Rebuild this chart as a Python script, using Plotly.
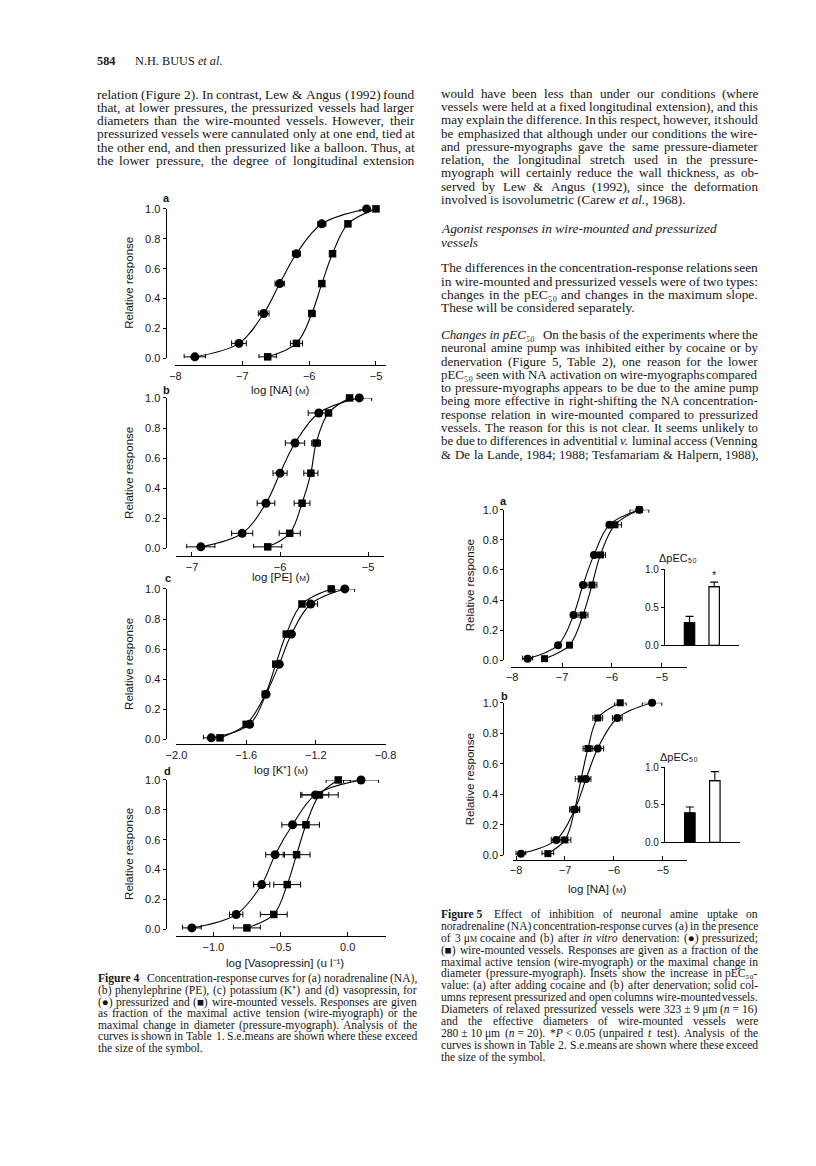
import re
import plotly.graph_objects as go

# ---------------- data ----------------
resp_levels = [0.01, 0.1, 0.3, 0.5, 0.7, 0.9, 1.0]

# Figure 4a  noradrenaline
na_press_x = [-7.71, -7.05, -6.68, -6.44, -6.19, -5.81, -5.14]
na_press_err = [0.16, 0.11, 0.08, 0.07, 0.06, 0.06, 0.10]
na_wire_x = [-6.62, -6.19, -5.96, -5.81, -5.65, -5.42, -5.00]
na_wire_err = [0.13, 0.09, 0.05, 0.0, 0.0, 0.0, 0.0]

# Figure 4b  phenylephrine
pe_press_x = [-6.90, -6.43, -6.16, -6.00, -5.83, -5.56, -5.10]
pe_press_err = [0.16, 0.12, 0.10, 0.08, 0.11, 0.12, 0.14]
pe_wire_x = [-6.14, -5.89, -5.75, -5.65, -5.59, -5.45, -5.21]
pe_wire_err = [0.16, 0.12, 0.09, 0.08, 0.05, 0.0, 0.0]

# Figure 4c  potassium
k_press_x = [-1.80, -1.58, -1.486, -1.41, -1.34, -1.23, -1.034]
k_press_err = [0.045, 0.0, 0.0, 0.0, 0.0, 0.04, 0.056]
k_wire_x = [-1.75, -1.60, -1.49, -1.43, -1.37, -1.28, -1.112]
k_wire_err = [0.0, 0.0, 0.0, 0.0, 0.0, 0.0, 0.0]

# Figure 4d  vasopressin
vp_press_x = [-1.16, -0.83, -0.64, -0.54, -0.41, -0.24, 0.10]
vp_press_err = [0.07, 0.05, 0.06, 0.07, 0.08, 0.10, 0.13]
vp_wire_x = [-0.75, -0.55, -0.45, -0.38, -0.31, -0.21, -0.07]
vp_wire_err = [0.10, 0.10, 0.10, 0.10, 0.10, 0.14, 0.09]

# Figure 5a  NA with cocaine
coc_press_x = [-7.69, -7.08, -6.77, -6.58, -6.36, -6.05, -5.45]
coc_press_err = [0.10, 0.0, 0.0, 0.0, 0.0, 0.0, 0.19]
coc_wire_x = [-7.35, -6.85, -6.58, -6.40, -6.23, -5.94, -5.45]
coc_wire_err = [0.0, 0.0, 0.1, 0.1, 0.1, 0.13, 0.0]

# Figure 5b  NA after denervation
den_press_x = [-7.90, -7.18, -6.80, -6.57, -6.33, -5.93, -5.22]
den_press_err = [0.1, 0.1, 0.1, 0.1, 0.12, 0.1, 0.2]
den_wire_x = [-7.35, -7.00, -6.80, -6.67, -6.53, -6.33, -5.87]
den_wire_err = [0.12, 0.12, 0.1, 0.12, 0.1, 0.1, 0.12]

# Insets: delta pEC50 (pressurized, wire-mounted)
inset_groups = [0, 1]
inset_a_vals = [0.30, 0.77]
inset_a_err = [0.08, 0.06]
inset_b_vals = [0.39, 0.82]
inset_b_err = [0.08, 0.12]

# ---------------- page geometry helpers ----------------
W, H = 816, 1166
SERIF = "Liberation Serif"
SANS = "Liberation Sans"
TXT = "#161616"


def fx(px):
    return px / W


def fy(py):
    return 1 - py / H


annotations = []


def add_text(x, y, text, size, family=SERIF, xanchor="left", yanchor="middle",
             angle=0, color=TXT, xref="paper", yref="paper", raw=False):
    annotations.append(dict(
        x=x if raw else fx(x), y=y if raw else fy(y), xref=xref, yref=yref,
        text=text, showarrow=False, xanchor=xanchor, yanchor=yanchor,
        textangle=angle, borderpad=0, borderwidth=0,
        font=dict(family=family, size=size, color=color)))


# Times / Liberation Serif advance widths (per 1000 em)
TW = {' ': 250, '\u00a0': 250, '!': 333, '"': 408, '%': 833, '&': 778, "'": 180,
      '(': 333, ')': 333, '*': 500, '+': 564, ',': 250, '-': 333, '.': 250,
      '/': 278, ':': 278, ';': 278, '<': 564, '=': 564, '>': 564, '?': 444,
      '[': 333, ']': 333, '\u00b1': 564, '\u03bc': 500, '\u25cf': 600, '\u25a0': 600,
      '\u2080': 330, '\u2085': 330, '\u207a': 380, '\u207b': 380, '\u00b9': 300,
      'A': 722, 'B': 667, 'C': 667, 'D': 722, 'E': 611, 'F': 556, 'G': 722,
      'H': 722, 'I': 333, 'J': 389, 'K': 722, 'L': 611, 'M': 889, 'N': 722,
      'O': 722, 'P': 556, 'Q': 722, 'R': 667, 'S': 556, 'T': 611, 'U': 722,
      'V': 722, 'W': 944, 'X': 722, 'Y': 722, 'Z': 611,
      'a': 444, 'b': 500, 'c': 444, 'd': 500, 'e': 444, 'f': 333, 'g': 500,
      'h': 500, 'i': 278, 'j': 278, 'k': 500, 'l': 278, 'm': 778, 'n': 500,
      'o': 500, 'p': 500, 'q': 500, 'r': 333, 's': 389, 't': 278, 'u': 500,
      'v': 500, 'w': 722, 'x': 500, 'y': 500, 'z': 444}
WFACT = 1.02  # small safety margin for on-screen glyph rounding


def word_w(word, size):
    word = word.replace("&lt;", "<")
    total, scale = 0.0, 1.0
    for part in re.split(r"(<[^<>]+>)", word):
        if part.startswith("<") and part.endswith(">") and len(part) > 2:
            if part.startswith("<span"):
                scale = 0.65
            elif part == "</span>":
                scale = 1.0
            continue
        for ch in part:
            total += TW.get(ch, 500) * scale
    if "<b>" in word:
        total *= 1.06
    return total * size / 1000.0 * WFACT


def split_words(line):
    # split on spaces that are not inside an html tag
    return re.split(r" (?![^<>]*>)", line)


def fit_size(lines, width, target, min_gap_em=0.22, justify_last=False):
    best = target
    for i, line in enumerate(lines):
        if i == len(lines) - 1 and not justify_last:
            continue
        words = split_words(line)
        units = sum(word_w(w, 1000) for w in words) / 1000.0
        best = min(best, width / (units + (len(words) - 1) * min_gap_em))
    return best


def paragraph(lines, x0, x1, y0, dy, target, justify_last=False):
    size = fit_size(lines, x1 - x0, target, justify_last=justify_last)
    for i, line in enumerate(lines):
        y = y0 + i * dy
        words = split_words(line)
        last = (i == len(lines) - 1) and not justify_last
        if last or len(words) == 1:
            add_text(x0, y, line, size)
            continue
        widths = [word_w(w, size) for w in words]
        gap = (x1 - x0 - sum(widths)) / (len(words) - 1)
        x = x0
        for j, (w, wd) in enumerate(zip(words, widths)):
            if j == len(words) - 1:
                add_text(x1, y, w, size, xanchor="right")
            else:
                add_text(x, y, w, size)
            x += wd + gap
    return size


NB = "\u00a0"
SMALLM = '<span style="font-size:8px">M</span>'
SUB50 = "\u2085\u2080"

# ---------------- running text ----------------
add_text(88, 56, "<b>584</b>", 12.3)
add_text(127, 56, "N.H. BUUS <i>et al.</i>", 12.3)

BODY = 13.4
left_par = [
    "relation (Figure 2). In contrast, Lew & Angus (1992) found",
    "that, at lower pressures, the pressurized vessels had larger",
    "diameters than the wire-mounted vessels. However, their",
    "pressurized vessels were cannulated only at one end, tied at",
    "the other end, and then pressurized like a balloon. Thus, at",
    "the lower pressure, the degree of longitudinal extension",
]
paragraph(left_par, 88, 415, 89, 13.4, BODY, justify_last=True)

right_par1 = [
    "would have been less than under our conditions (where",
    "vessels were held at a fixed longitudinal extension), and this",
    "may explain the difference. In this respect, however, it should",
    "be emphasized that although under our conditions the wire-",
    "and pressure-myographs gave the same pressure-diameter",
    "relation, the longitudinal stretch used in the pressure-",
    "myograph will certainly reduce the wall thickness, as ob-",
    "served by Lew & Angus (1992), since the deformation",
    "involved is isovolumetric (Carew <i>et</i> <i>al.</i>, 1968).",
]
body_size = paragraph(right_par1, 442, 768, 88, 13.45, BODY)

add_text(442, 225, "<i>Agonist responses in wire-mounted and pressurized</i>", body_size * 1.02)
add_text(442, 239, "<i>vessels</i>", body_size * 1.02)

right_par2 = [
    "The differences in the concentration-response relations seen",
    "in wire-mounted and pressurized vessels were of two types:",
    "changes in the pEC" + SUB50 + " and changes in the maximum slope.",
    "These will be considered separately.",
]
paragraph(right_par2, 442, 768, 264.5, 13.4, BODY)

right_par3 = [
    "<i>Changes" + NB + "in" + NB + "pEC" + SUB50 + "</i>" + NB + NB
    + " On the basis of the experiments where the",
    "neuronal amine pump was inhibited either by cocaine or by",
    "denervation (Figure 5, Table 2), one reason for the lower",
    "pEC" + SUB50 + " seen with NA activation on wire-myographs compared",
    "to pressure-myographs appears to be due to the amine pump",
    "being more effective in right-shifting the NA concentration-",
    "response relation in wire-mounted compared to pressurized",
    "vessels. The reason for this is not clear. It seems unlikely to",
    "be due to differences in adventitial <i>v.</i> luminal access (Venning",
    "& De la Lande, 1984; 1988; Tesfamariam & Halpern, 1988),",
]
paragraph(right_par3, 442, 768, 332, 13.42, BODY, justify_last=True)

CAP = 11.6
cap4 = [
    "<b>Figure" + NB + "4</b>" + NB + NB + " Concentration-response curves for (a) noradrenaline (NA),",
    "(b) phenylephrine (PE), (c) potassium (K\u207a) and (d) vasopressin, for",
    "(\u25cf) pressurized and (\u25a0) wire-mounted vessels. Responses are given",
    "as fraction of the maximal active tension (wire-myograph) or the",
    "maximal change in diameter (pressure-myograph). Analysis of the",
    "curves is shown in Table 1. S.e.means are shown where these exceed",
    "the size of the symbol.",
]
paragraph(cap4, 89, 417, 983, 11.68, CAP)

cap5 = [
    "<b>Figure" + NB + "5</b>" + NB + " Effect of inhibition of neuronal amine uptake on",
    "noradrenaline (NA) concentration-response curves (a) in the presence",
    "of 3" + NB + "\u03bc" + SMALLM + " cocaine and (b) after <i>in</i> <i>vitro</i> denervation: (\u25cf) pressurized;",
    "(\u25a0) wire-mounted vessels. Responses are given as a fraction of the",
    "maximal active tension (wire-myograph) or the maximal change in",
    "diameter (pressure-myograph). Insets show the increase in pEC" + SUB50 + "-",
    "value: (a) after adding cocaine and (b) after denervation; solid col-",
    "umns represent pressurized and open columns wire-mounted vessels.",
    "Diameters of relaxed pressurized vessels were 323" + NB + "\u00b1" + NB + "9" + NB
    + "\u03bcm (<i>n</i>" + NB + "=" + NB + "16)",
    "and the effective diameters of wire-mounted vessels were",
    "280" + NB + "\u00b1" + NB + "10" + NB + "\u03bcm (<i>n</i>" + NB + "=" + NB
    + "20). *<i>P</i>" + NB + "&lt;" + NB + "0.05 (unpaired <i>t</i> test). Analysis of the",
    "curves is shown in Table 2. S.e.means are shown where these exceed",
    "the size of the symbol.",
]
paragraph(cap5, 442, 768, 918, 12.0, CAP, justify_last=False)

# ---------------- charts ----------------
fig = go.Figure()
layout_axes = {}
AXFONT = dict(family=SANS, size=11, color=TXT)


def curve_axes(n, xdom, xrange, xticks, xfmt, xline, ydom, yline):
    layout_axes[f"xaxis{n}"] = dict(
        domain=[fx(xdom[0]), fx(xdom[1])], range=xrange, anchor="free",
        position=fy(xline), tickvals=xticks, tickformat=xfmt,
        ticks="inside", ticklen=4, tickwidth=1, tickcolor="black",
        showline=True, linecolor="black", linewidth=1.2, showgrid=False,
        zeroline=False, tickfont=AXFONT, fixedrange=True)
    layout_axes[f"yaxis{n}"] = dict(
        domain=[fy(ydom[1]), fy(ydom[0])], range=[0, 1], anchor="free",
        position=fx(yline), tickvals=[0, 0.2, 0.4, 0.6, 0.8, 1.0],
        tickformat=".1f", ticks="outside", ticklen=3, tickwidth=1,
        tickcolor="black", showline=True, linecolor="black", linewidth=1.2,
        showgrid=False, zeroline=False, tickfont=AXFONT, fixedrange=True)


def series(n, xs, errs, symbol, size, ys=resp_levels):
    fig.add_trace(go.Scatter(
        x=xs, y=ys, mode="lines+markers", xaxis=f"x{n}", yaxis=f"y{n}",
        line=dict(color="black", width=1.1, shape="spline", smoothing=1.0),
        marker=dict(symbol=symbol, size=size, color="black",
                    line=dict(width=0)),
        error_x=dict(type="data", array=errs, color="black", thickness=1,
                     width=3, visible=True),
        cliponaxis=False, hoverinfo="skip"))


# Figure 4 panels
curve_axes(1, (169, 385), [-8, -8 + (385 - 169) / 68.7], [-8, -7, -6, -5], "d", 363, (205, 356), 159)
curve_axes(2, (170, 383), [-7.177, -4.823], [-7, -6, -5], "d", 556, (396, 548), 159)
curve_axes(3, (170, 385), [-2.0, -0.8], [-2.0, -1.6, -1.2, -0.8], ".1f", 746, (589, 741), 159)
curve_axes(4, (170, 385), [-1.275, 0.283], [-1.0, -0.5, 0.0], ".1f", 940, (782, 933), 159)
# Figure 5 panels
curve_axes(5, (514, 695), [-8.02, -8 + (695 - 516) / 51.0], [-8, -7, -6, -5], "d", 668, (509, 661), 506)
curve_axes(6, (516, 695), [-8.06, -8 + (695 - 519) / 50.3], [-8, -7, -6, -5], "d", 863, (704, 858), 506)

series(1, na_press_x, na_press_err, "circle", 9)
series(1, na_wire_x, na_wire_err, "square", 7.5)
series(2, pe_press_x, pe_press_err, "circle", 9)
series(2, pe_wire_x, pe_wire_err, "square", 7.5)
series(3, k_press_x, k_press_err, "circle", 9)
series(3, k_wire_x, k_wire_err, "square", 7.5)
series(4, vp_press_x, vp_press_err, "circle", 9)
series(4, vp_wire_x, vp_wire_err, "square", 7.5)
series(5, coc_press_x, coc_press_err, "circle", 8)
series(5, coc_wire_x, coc_wire_err, "square", 7)
series(6, den_press_x, den_press_err, "circle", 8)
series(6, den_wire_x, den_wire_err, "square", 7)

# Insets
INFONT = dict(family=SANS, size=10, color=TXT)
for n, ydom, xr in ((7, (569, 646), (672, 748)), (8, (769, 845), (672, 749))):
    layout_axes[f"xaxis{n}"] = dict(
        domain=[fx(xr[0]), fx(xr[1])], range=[-1, 2], anchor=f"y{n}",
        showline=True, linecolor="black", linewidth=1.2, ticks="",
        showticklabels=False, showgrid=False, zeroline=False, fixedrange=True)
    layout_axes[f"yaxis{n}"] = dict(
        domain=[fy(ydom[1]), fy(ydom[0])], range=[0, 1], anchor=f"x{n}",
        tickvals=[0, 0.5, 1.0], tickformat=".1f", ticks="outside", ticklen=3,
        tickcolor="black", showline=True, linecolor="black", linewidth=1.2,
        showgrid=False, zeroline=False, tickfont=INFONT, fixedrange=True)

for n, vals, errs in ((7, inset_a_vals, inset_a_err), (8, inset_b_vals, inset_b_err)):
    fig.add_trace(go.Bar(
        x=inset_groups, y=vals, width=0.42, xaxis=f"x{n}", yaxis=f"y{n}",
        marker=dict(color=["black", "white"], line=dict(color="black", width=1.2)),
        error_y=dict(type="data", symmetric=False, array=errs,
                     arrayminus=[0, 0], color="black", thickness=1.1, width=4),
        hoverinfo="skip"))
    top = vals[1] + errs[1] + 0.09
    add_text(inset_groups[1], top, "*", 11, family=SANS, xref=f"x{n}", yref=f"y{n}",
             xanchor="center", raw=True)

# axis titles / panel letters
for yc in (280, 472, 665, 857):
    add_text(121, yc, "Relative response", 11.5, family=SANS, xanchor="center", angle=-90)
for yc in (585, 781):
    add_text(472, yc, "Relative response", 11.5, family=SANS, xanchor="center", angle=-90)

add_text(277, 388, "log [NA] (" + SMALLM + ")", 11.5, family=SANS, xanchor="center")
add_text(277, 577, "log [PE] (" + SMALLM + ")", 11.5, family=SANS, xanchor="center")
add_text(277, 772, "log [K\u207a] (" + SMALLM + ")", 11.5, family=SANS, xanchor="center")
add_text(282, 967, "log [Vasopressin] (u l\u207b\u00b9)", 11.5, family=SANS, xanchor="center")
add_text(603, 892, "log [NA] (" + SMALLM + ")", 11.5, family=SANS, xanchor="center")

for (x, y, t) in ((160, 194, "a"), (160, 388, "b"), (161, 578, "c"), (161, 773, "d"),
                  (506, 500, "a"), (507, 697, "b")):
    add_text(x, y, "<b>" + t + "</b>", 11, family=SANS, xanchor="center")

add_text(685, 558, "\u0394pEC" + SUB50, 11, family=SANS, xanchor="center")
add_text(686, 759, "\u0394pEC" + SUB50, 11, family=SANS, xanchor="center")

fig.update_layout(
    width=W, height=H, margin=dict(l=0, r=0, t=0, b=0),
    paper_bgcolor="white", plot_bgcolor="white", showlegend=False,
    annotations=annotations, **layout_axes)

fig.write_html("out.html", config={"displayModeBar": False},
               post_script="document.body.style.margin='0';document.body.style.overflow='hidden';")
